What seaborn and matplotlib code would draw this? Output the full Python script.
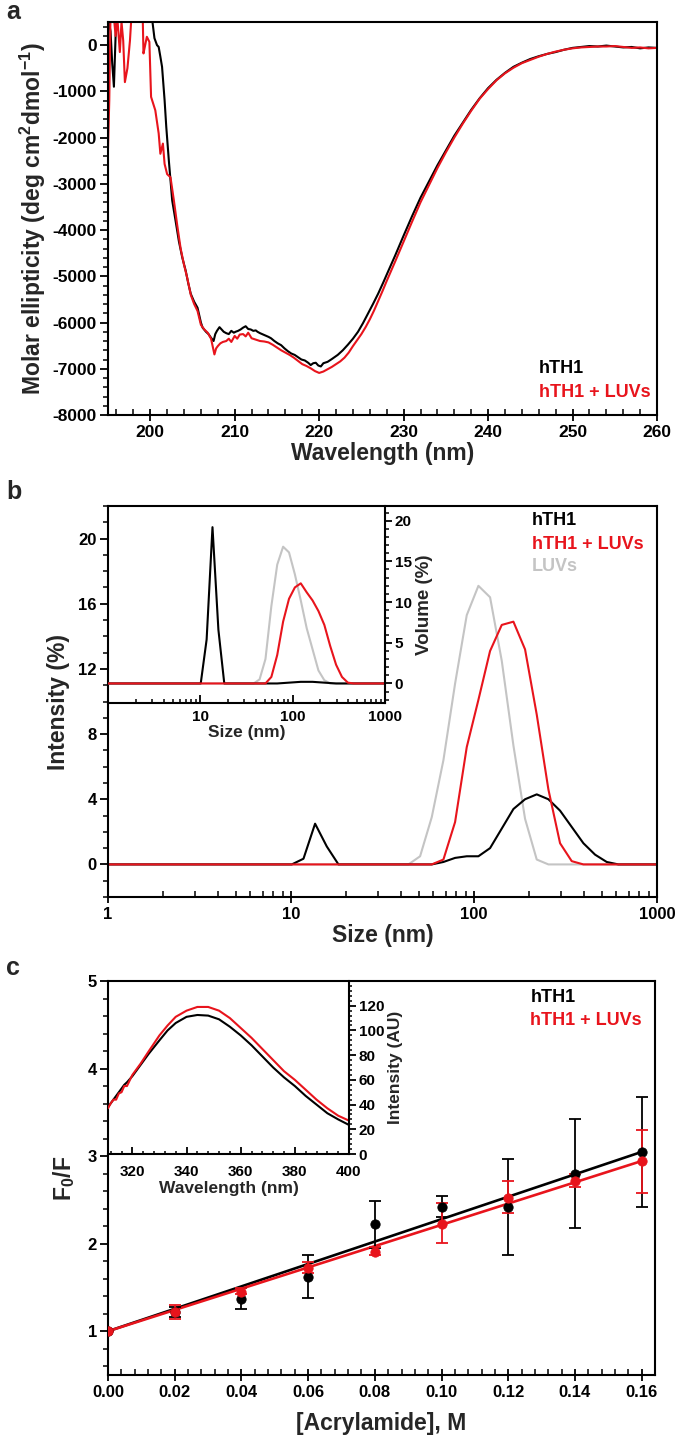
import numpy as np
import pandas as pd
import matplotlib
matplotlib.use("Agg")
import matplotlib.pyplot as plt
from matplotlib.ticker import MultipleLocator, LogLocator, NullFormatter, FixedLocator
import seaborn as sns

sns.set_theme(style="ticks")
plt.rcParams['font.family'] = ['Liberation Sans', 'DejaVu Sans']
plt.rcParams['font.weight'] = 'bold'
plt.rcParams['axes.labelweight'] = 'bold'
plt.rcParams['axes.unicode_minus'] = False
plt.rcParams['mathtext.fontset'] = 'custom'
plt.rcParams['mathtext.rm'] = 'Liberation Sans:bold'
plt.rcParams['mathtext.bf'] = 'Liberation Sans:bold'
plt.rcParams['mathtext.default'] = 'bf'

RED = '#e8141c'
GRAY = '#c4c4c4'

# ---------------- Panel a: CD spectra ----------------
cd_wl_hth1 = [195.0, 195.3, 195.5, 195.7, 195.9, 196.1, 196.3, 198.0, 200.0, 200.2, 200.5, 200.8, 201.0,
              201.2, 201.4, 201.7, 201.9, 202.2, 202.6, 203.0, 203.4, 203.8, 204.2, 204.5, 204.8, 205.2,
              205.6, 206.0, 206.2, 206.6, 206.9, 207.2, 207.5, 207.7, 207.9, 208.2, 208.5, 208.7, 209.0,
              209.3, 209.6, 209.9, 210.1, 210.4, 210.7, 211.0, 211.3, 211.6, 211.9, 212.2, 212.5, 212.7,
              213.0, 213.5, 214.0, 214.3, 214.7, 215.1, 215.5, 215.9, 216.3, 216.7, 217.1, 217.5, 217.9,
              218.3, 218.7, 219.0, 219.3, 219.6, 219.9, 220.2, 220.5, 221.0, 221.5, 222.2, 222.8, 223.4,
              224.0, 224.6, 225.2, 225.8, 226.4, 227.0, 227.6, 228.2, 229.0, 230.0, 231.0, 232.0, 233.0,
              234.0, 235.0, 236.0, 237.0, 238.0, 239.0, 240.0, 241.0, 242.0, 243.0, 244.0, 245.0, 246.0,
              247.0, 248.0, 249.0, 250.0, 251.0, 252.0, 253.0, 254.0, 255.0, 256.0, 257.0, 258.0, 259.0, 260.0]
cd_val_hth1 = [600, 300, -400, -900, 200, 700, 800, 800, 800, 600, 150, 0, -40,
               -250, -470, -1190, -1770, -2490, -3360, -3800, -4250, -4600, -4880, -5150, -5380, -5550,
               -5680, -6000, -6110, -6200, -6250, -6330, -6400, -6250, -6180, -6100, -6160, -6200, -6230,
               -6250, -6180, -6220, -6200, -6180, -6150, -6110, -6080, -6140, -6150, -6180, -6170, -6200,
               -6230, -6270, -6310, -6340, -6400, -6450, -6490, -6560, -6620, -6670, -6700, -6750, -6800,
               -6820, -6870, -6920, -6880, -6870, -6930, -6950, -6880, -6850, -6790, -6700, -6600, -6480,
               -6350, -6200, -6010, -5800, -5590, -5370, -5130, -4880, -4550, -4120, -3700, -3300, -2950,
               -2600, -2280, -1960, -1680, -1400, -1150, -930, -750, -600, -470, -380, -300, -240,
               -190, -150, -100, -60, -40, -20, -30, -10, -30, -50, -40, -70, -50, -60]

cd_wl_luv = [195.0, 195.15, 195.3, 195.6, 195.9, 196.1, 196.4, 196.6, 196.8, 197.0, 197.3, 197.6, 197.8,
             199.1, 199.2, 199.4, 199.6, 199.9, 200.1, 200.6, 201.0, 201.2, 201.5, 201.7, 202.0, 202.4,
             202.8, 203.2, 203.6, 204.0, 204.4, 204.8, 205.2, 205.6, 206.0, 206.4, 206.8, 207.2, 207.6,
             207.8, 208.0, 208.3, 208.6, 209.0, 209.3, 209.6, 210.0, 210.3, 210.6, 211.0, 211.3, 211.6,
             212.0, 212.5, 213.0, 213.5, 214.0, 214.5, 215.0, 215.5, 216.0, 216.5, 217.0, 217.5, 218.0,
             218.5, 219.0, 219.5, 220.0, 220.5, 221.0, 221.5, 222.0, 222.5, 223.0, 223.5, 224.0, 224.5,
             225.0, 225.5, 226.0, 226.5, 227.0, 227.5, 228.0, 229.0, 230.0, 231.0, 232.0, 233.0, 234.0,
             235.0, 236.0, 237.0, 238.0, 239.0, 240.0, 241.0, 242.0, 243.0, 244.0, 245.0, 246.0, 247.0,
             248.0, 249.0, 250.0, 251.0, 252.0, 253.0, 254.0, 255.0, 256.0, 257.0, 258.0, 259.0, 260.0]
cd_val_luv = [-2240, -1200, 700, 800, 200, 600, -150, 500, 100, -800, -500, 100, 700,
              700, -180, 0, 180, 70, -1120, -1410, -1910, -2350, -2130, -2570, -2790, -2860,
              -3360, -3900, -4400, -4750, -5050, -5400, -5600, -5750, -6050, -6150, -6220, -6350, -6690,
              -6560, -6510, -6450, -6420, -6400, -6350, -6420, -6290, -6350, -6260, -6250, -6300, -6220,
              -6340, -6370, -6400, -6410, -6430, -6480, -6540, -6600, -6650, -6700, -6760, -6830, -6900,
              -6940, -6990, -7050, -7090, -7060, -7010, -6960, -6900, -6840, -6760, -6650, -6510, -6380,
              -6250, -6100, -5930, -5740, -5530, -5320, -5100, -4680, -4250, -3820, -3400, -3030, -2660,
              -2320, -2000, -1700, -1420, -1160, -950, -760, -610, -490, -390, -320, -250, -190,
              -140, -100, -70, -50, -40, -30, -30, -20, -40, -60, -50, -70, -60]

# ---------------- Panel b: DLS ----------------
dls_size = [1.0, 8.721, 10.1, 11.7, 13.54, 15.69, 18.17, 21.04, 37.84, 43.82, 50.75, 58.77, 68.06,
            78.82, 91.28, 105.7, 122.4, 141.8, 164.2, 190.1, 220.2, 255.0, 295.3, 342.0, 396.1,
            458.7, 531.2, 615.1, 712.4, 1000.0]
int_hth1 = [0, 0, 0, 0.35, 2.5, 1.1, 0, 0, 0, 0, 0, 0, 0.15,
            0.4, 0.5, 0.5, 1.0, 2.2, 3.4, 4.0, 4.3, 4.0, 3.3, 2.3, 1.3,
            0.6, 0.15, 0, 0, 0]
int_hth1_luv = [0, 0, 0, 0, 0, 0, 0, 0, 0, 0, 0, 0, 0.3,
                2.6, 7.2, 10.1, 13.1, 14.7, 14.9, 13.2, 9.2, 4.6, 1.3, 0.2, 0,
                0, 0, 0, 0, 0]
int_luv = [0, 0, 0, 0, 0, 0, 0, 0, 0, 0, 0.5, 2.9, 6.4,
           11.1, 15.3, 17.1, 16.4, 12.5, 7.3, 2.8, 0.3, 0, 0, 0, 0,
           0, 0, 0, 0, 0]
vol_hth1 = [0, 0, 0, 5.4, 19.2, 6.6, 0, 0, 0, 0, 0, 0, 0,
            0.05, 0.1, 0.15, 0.2, 0.2, 0.2, 0.15, 0.1, 0.05, 0, 0, 0,
            0, 0, 0, 0, 0]
vol_hth1_luv = [0, 0, 0, 0, 0, 0, 0, 0, 0, 0, 0, 0.8, 3.5,
                7.6, 10.4, 11.8, 12.3, 11.2, 10.2, 8.9, 7.2, 4.6, 2.3, 0.8, 0.1,
                0, 0, 0, 0, 0]
vol_luv = [0, 0, 0, 0, 0, 0, 0, 0, 0, 0.5, 3.0, 9.5, 14.6,
           16.8, 16.1, 13.4, 10.2, 6.8, 4.2, 1.6, 0.4, 0, 0, 0, 0,
           0, 0, 0, 0, 0]

# ---------------- Panel c: acrylamide quenching ----------------
acryl = [0.00, 0.02, 0.04, 0.06, 0.08, 0.10, 0.12, 0.14, 0.16]
f0f_hth1 = [1.00, 1.22, 1.37, 1.62, 2.22, 2.42, 2.42, 2.80, 3.05]
f0f_hth1_lo = [1.00, 1.16, 1.25, 1.38, 1.95, 2.30, 1.87, 2.18, 2.42]
f0f_hth1_hi = [1.00, 1.28, 1.49, 1.87, 2.49, 2.54, 2.97, 3.42, 3.68]
f0f_luv = [1.00, 1.22, 1.45, 1.72, 1.91, 2.23, 2.52, 2.72, 2.94]
f0f_luv_lo = [1.00, 1.14, 1.42, 1.66, 1.87, 2.01, 2.35, 2.65, 2.58]
f0f_luv_hi = [1.00, 1.30, 1.49, 1.79, 1.96, 2.47, 2.72, 2.79, 3.30]
ksv_hth1 = 12.8
ksv_luv = 12.15

# inset: emission spectra
em_wl = [311, 312, 313, 314, 315, 316, 317, 318, 320, 323, 326, 330, 333, 336, 340, 344, 348,
         352, 356, 360, 364, 368, 372, 376, 380, 384, 388, 392, 396, 400]
em_hth1 = [38, 41, 44, 47, 50, 53, 56, 58, 63, 72, 81, 92, 100, 106, 111, 112.5, 112,
           109, 103, 96, 88, 79, 70, 62, 55, 47, 40, 33, 28, 23.5]
em_hth1_luv = [37, 41, 44, 44, 49, 50, 55, 55, 64, 73, 83, 96, 104, 111, 116, 119, 119,
               116, 110, 102, 94, 85, 76, 67, 60, 52, 44, 37, 31, 27]

# ---------------- layout helpers ----------------
W, H = 675, 1445
fig = plt.figure(figsize=(W / 100, H / 100), dpi=100)


def box(l, t, r, b):
    return [l / W, 1 - b / H, (r - l) / W, (b - t) / H]


def style(ax, size=12, lw=1.5):
    for s in ax.spines.values():
        s.set_linewidth(lw)
        s.set_color('black')
    ax.tick_params(axis='x', which='major', direction='inout', length=9, width=1.3,
                   labelsize=size, colors='black', pad=3)
    ax.tick_params(axis='x', which='minor', direction='in', length=4, width=1.1, colors='black')
    ax.tick_params(axis='y', which='major', direction='out', length=6, width=1.3,
                   labelsize=size, colors='black', pad=2)
    ax.tick_params(axis='y', which='minor', direction='out', length=3.5, width=1.1, colors='black')
    ax.set_facecolor('none')
    ax.grid(False)


LW = 1.5
LAB = 16.5
LEG = 13

# ---------------- Panel a ----------------
axa = fig.add_axes(box(108, 22, 657, 415))
da = pd.DataFrame({'wl': cd_wl_hth1, 'val': cd_val_hth1})
db = pd.DataFrame({'wl': cd_wl_luv, 'val': cd_val_luv})
sns.lineplot(data=da, x='wl', y='val', ax=axa, color='black', lw=LW, estimator=None, sort=False)
sns.lineplot(data=db, x='wl', y='val', ax=axa, color=RED, lw=LW, estimator=None, sort=False)
axa.set_xlim(195, 260)
axa.set_ylim(-8000, 500)
axa.xaxis.set_major_locator(MultipleLocator(10))
axa.xaxis.set_minor_locator(MultipleLocator(2))
axa.yaxis.set_major_locator(MultipleLocator(1000))
axa.yaxis.set_minor_locator(MultipleLocator(200))
style(axa, size=12.5)
axa.set_xlabel('Wavelength (nm)', fontsize=LAB, labelpad=1)
axa.set_ylabel('Molar ellipticity (deg cm$^2$dmol$^{-1}$)', fontsize=LAB, labelpad=3)
axa.text(0.785, 0.118, 'hTH1', transform=axa.transAxes, fontsize=LEG, color='black', va='center')
axa.text(0.785, 0.058, 'hTH1 + LUVs', transform=axa.transAxes, fontsize=LEG, color=RED, va='center')

# ---------------- Panel b ----------------
axb = fig.add_axes(box(108, 506, 657, 897))
dfb = pd.DataFrame({'size': dls_size, 'a': int_hth1, 'b': int_hth1_luv, 'c': int_luv})
sns.lineplot(data=dfb, x='size', y='c', ax=axb, color=GRAY, lw=LW, estimator=None, sort=False)
sns.lineplot(data=dfb, x='size', y='a', ax=axb, color='black', lw=LW, estimator=None, sort=False)
sns.lineplot(data=dfb, x='size', y='b', ax=axb, color=RED, lw=LW, estimator=None, sort=False)
axb.set_xscale('log')
axb.set_xlim(1, 1000)
axb.set_ylim(-2, 22)
axb.xaxis.set_major_locator(FixedLocator([1, 10, 100, 1000]))
axb.xaxis.set_major_formatter(matplotlib.ticker.FuncFormatter(lambda v, p: f'{v:g}'))
axb.xaxis.set_minor_locator(LogLocator(base=10, subs=np.arange(2, 10)))
axb.xaxis.set_minor_formatter(NullFormatter())
axb.yaxis.set_major_locator(FixedLocator([0, 4, 8, 12, 16, 20]))
axb.yaxis.set_minor_locator(MultipleLocator(1))
style(axb)
axb.set_xlabel('Size (nm)', fontsize=LAB, labelpad=1)
axb.set_ylabel('Intensity (%)', fontsize=LAB, labelpad=6)
axb.text(0.772, 0.963, 'hTH1', transform=axb.transAxes, fontsize=LEG, color='black', va='center')
axb.text(0.772, 0.902, 'hTH1 + LUVs', transform=axb.transAxes, fontsize=LEG, color=RED, va='center')
axb.text(0.772, 0.845, 'LUVs', transform=axb.transAxes, fontsize=LEG, color=GRAY, va='center')

# inset b
axbi = fig.add_axes(box(108, 506, 385, 703))
dfv = pd.DataFrame({'size': dls_size, 'a': vol_hth1, 'b': vol_hth1_luv, 'c': vol_luv})
sns.lineplot(data=dfv, x='size', y='c', ax=axbi, color=GRAY, lw=LW, estimator=None, sort=False)
sns.lineplot(data=dfv, x='size', y='a', ax=axbi, color='black', lw=LW, estimator=None, sort=False)
sns.lineplot(data=dfv, x='size', y='b', ax=axbi, color=RED, lw=LW, estimator=None, sort=False)
axbi.set_xscale('log')
axbi.set_xlim(1, 1000)
axbi.set_ylim(-2.4, 21.8)
axbi.xaxis.set_major_locator(FixedLocator([10, 100, 1000]))
axbi.xaxis.set_major_formatter(matplotlib.ticker.FuncFormatter(lambda v, p: f'{v:g}'))
axbi.xaxis.set_minor_locator(LogLocator(base=10, subs=np.arange(2, 10)))
axbi.xaxis.set_minor_formatter(NullFormatter())
axbi.yaxis.tick_right()
axbi.yaxis.set_label_position('right')
axbi.yaxis.set_major_locator(MultipleLocator(5))
axbi.yaxis.set_minor_locator(MultipleLocator(1))
style(axbi, size=11)
axbi.spines['left'].set_visible(False)
axbi.spines['top'].set_visible(False)
axbi.tick_params(axis='x', which='major', direction='in', length=6, pad=5)
axbi.tick_params(axis='x', which='minor', direction='in', length=3)
axbi.tick_params(axis='y', which='major', length=5)
axbi.tick_params(axis='y', which='minor', length=3)
axbi.set_xlabel('Size (nm)', fontsize=12.5, labelpad=1)
axbi.set_ylabel('Volume (%)', fontsize=13.5, labelpad=3)

# ---------------- Panel c ----------------
axc = fig.add_axes(box(108, 981, 655, 1375))
xfit = np.array([acryl[0], acryl[-1]])
sns.lineplot(x=xfit, y=1 + ksv_hth1 * xfit, ax=axc, color='black', lw=1.9)
sns.lineplot(x=xfit, y=1 + ksv_luv * xfit, ax=axc, color=RED, lw=1.9)
fa = np.array(f0f_hth1)
fb = np.array(f0f_luv)
axc.errorbar(acryl, fa, yerr=[fa - np.array(f0f_hth1_lo), np.array(f0f_hth1_hi) - fa],
             fmt='none', ecolor='black', elinewidth=1.3, capsize=4.5, capthick=1.3, zorder=3)
axc.errorbar(acryl, fb, yerr=[fb - np.array(f0f_luv_lo), np.array(f0f_luv_hi) - fb],
             fmt='none', ecolor=RED, elinewidth=1.3, capsize=4.5, capthick=1.3, zorder=4)
sns.scatterplot(x=acryl, y=fa, ax=axc, color='black', s=45, edgecolor='black', linewidth=0.6, zorder=5)
sns.scatterplot(x=acryl, y=fb, ax=axc, color=RED, s=45, edgecolor=RED, linewidth=0.6, zorder=6)
axc.set_xlim(0, 0.164)
axc.set_ylim(0.5, 5)
axc.xaxis.set_major_locator(MultipleLocator(0.02))
axc.xaxis.set_major_formatter(matplotlib.ticker.FormatStrFormatter('%.2f'))
axc.xaxis.set_minor_locator(MultipleLocator(0.004))
axc.yaxis.set_major_locator(FixedLocator([1, 2, 3, 4, 5]))
axc.yaxis.set_minor_locator(MultipleLocator(0.2))
style(axc)
axc.set_xlabel('[Acrylamide], M', fontsize=LAB, labelpad=8)
axc.set_ylabel('F$_0$/F', fontsize=LAB, labelpad=8)
axc.text(0.772, 0.957, 'hTH1', transform=axc.transAxes, fontsize=LEG, color='black', va='center')
axc.text(0.772, 0.901, 'hTH1 + LUVs', transform=axc.transAxes, fontsize=LEG, color=RED, va='center')

# inset c
axci = fig.add_axes(box(108, 981, 349, 1154))
dfe = pd.DataFrame({'wl': em_wl, 'a': em_hth1, 'b': em_hth1_luv})
sns.lineplot(data=dfe, x='wl', y='a', ax=axci, color='black', lw=LW, estimator=None, sort=False)
sns.lineplot(data=dfe, x='wl', y='b', ax=axci, color=RED, lw=LW, estimator=None, sort=False)
axci.set_xlim(311, 400)
axci.set_ylim(0, 140)
axci.xaxis.set_major_locator(MultipleLocator(20))
axci.xaxis.set_minor_locator(MultipleLocator(4))
axci.yaxis.tick_right()
axci.yaxis.set_label_position('right')
axci.yaxis.set_major_locator(FixedLocator([0, 20, 40, 60, 80, 100, 120]))
axci.yaxis.set_minor_locator(MultipleLocator(4))
style(axci, size=11)
axci.spines['left'].set_visible(False)
axci.spines['top'].set_visible(False)
axci.tick_params(axis='x', which='major', direction='in', length=5, pad=8)
axci.tick_params(axis='x', which='minor', direction='in', length=2.5)
axci.tick_params(axis='y', which='major', direction='out', length=5)
axci.tick_params(axis='y', which='minor', direction='out', length=2.5)
axci.set_xlabel('Wavelength (nm)', fontsize=12.5, labelpad=1)
axci.set_ylabel('Intensity (AU)', fontsize=12.5, labelpad=3)

# panel letters
fig.text(6 / W, 1 - 12 / H, 'a', fontsize=18, fontweight='bold', va='center')
fig.text(6 / W, 1 - 492 / H, 'b', fontsize=18, fontweight='bold', va='center')
fig.text(6 / W, 1 - 968 / H, 'c', fontsize=18, fontweight='bold', va='center')

fig.savefig('out.png', dpi=100, facecolor='white')
